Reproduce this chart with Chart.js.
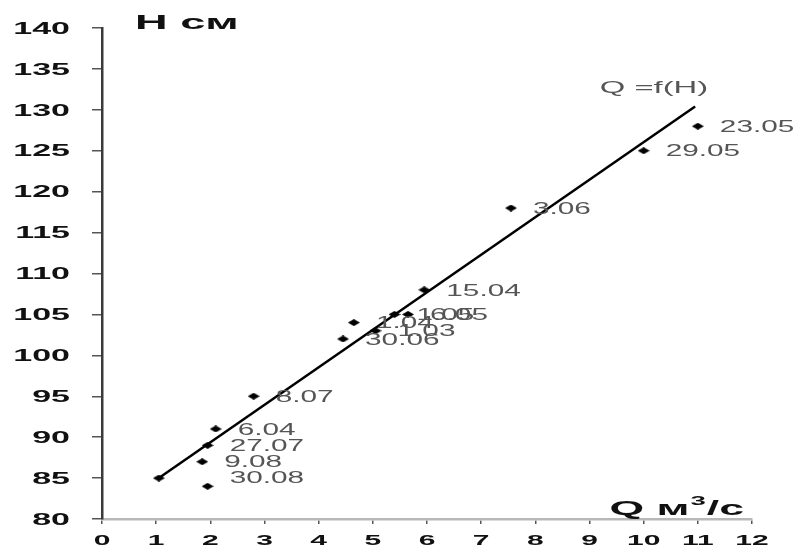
<!DOCTYPE html>
<html>
<head>
<meta charset="utf-8">
<script src="https://cdn.jsdelivr.net/npm/chart.js@4.4.1/dist/chart.umd.min.js"></script>
<style>
html,body{margin:0;padding:0;background:#fff;}
canvas{display:block;}
</style>
</head>
<body>
<canvas id="c" width="809" height="548"></canvas>
<script>
// ---- data ----
const Q = [1.05, 1.95, 1.85, 1.95, 2.1, 2.8, 4.45, 4.65, 5.05, 5.4, 5.65, 5.95, 7.55, 10.0, 11.0];
const H = [85, 84, 87, 89, 91, 95, 102, 104, 103, 105, 105, 108, 118, 125, 128];
const pointLabels = ['', '30.08', '9.08', '27.07', '6.04', '8.07', '30.06', '1.04', '1.03', '1.05', '6.05', '15.04', '3.06', '29.05', '23.05'];
const fitQ = [1.05, 10.95];
const fitH = [85, 130.4];
const xTicks = ['0','1','2','3','4','5','6','7','8','9','10','11','12'];
const yTicks = ['80','85','90','95','100','105','110','115','120','125','130','135','140'];
const yTitle = 'H см';
const xTitle = 'Q м';
const xTitleSup = '3';
const xTitleEnd = '/с';
const lineLabel = 'Q =f(H)';

// elongated diamond marker
const mk = document.createElement('canvas');
mk.width = 12; mk.height = 7;
(function(){
  const g = mk.getContext('2d');
  g.fillStyle = '#000';
  g.beginPath();
  g.moveTo(0,3.5); g.lineTo(6,0); g.lineTo(12,3.5); g.lineTo(6,7); g.closePath();
  g.fill();
})();

function stretchText(ctx, txt, x, y, sx, font, color, align, base){
  ctx.save();
  ctx.translate(x, y);
  ctx.scale(sx, 1);
  ctx.font = font;
  ctx.fillStyle = color;
  ctx.textAlign = align || 'left';
  ctx.textBaseline = base || 'middle';
  ctx.fillText(txt, 0, 0);
  ctx.restore();
}

const textPlugin = {
  id: 'texts',
  afterDraw(chart){
    const ctx = chart.ctx;
    const xs = chart.scales.x, ys = chart.scales.y;
    // y tick labels
    yTicks.forEach(t => {
      const py = ys.getPixelForValue(parseFloat(t));
      stretchText(ctx, t, 70, py + 1, 2.0, 'bold 17px "Liberation Sans", Arial, sans-serif', '#111', 'right');
    });
    // x tick labels
    xTicks.forEach(t => {
      const px = xs.getPixelForValue(parseFloat(t));
      stretchText(ctx, t, px, 541, 2.0, 'bold 15px "Liberation Sans", Arial, sans-serif', '#111', 'center');
    });
    // point labels
    const offs = {1: -9};
    pointLabels.forEach((l, i) => {
      if (!l) return;
      const px = xs.getPixelForValue(Q[i]) + 22;
      const py = ys.getPixelForValue(H[i]) + (offs[i] || 0) + 1;
      stretchText(ctx, l, px, py, 1.75, '17px "Liberation Sans", Arial, sans-serif', '#555', 'left');
    });
    // line label
    stretchText(ctx, lineLabel, xs.getPixelForValue(9.19), ys.getPixelForValue(132.6), 2.05, '16px "Liberation Sans", Arial, sans-serif', '#555', 'left');
    // axis titles
    stretchText(ctx, yTitle, xs.left + 33, 23, 2.15, 'bold 21px "Liberation Sans", Arial, sans-serif', '#111', 'left');
    const tx = xs.getPixelForValue(9.37), ty = ys.getPixelForValue(81.2);
    const sx = 2.12;
    ctx.save();
    ctx.font = 'bold 21px "Liberation Sans", Arial, sans-serif';
    const w1 = ctx.measureText(xTitle).width * sx;
    ctx.font = 'bold 13px "Liberation Sans", Arial, sans-serif';
    const w2 = ctx.measureText(xTitleSup).width * sx;
    ctx.restore();
    stretchText(ctx, xTitle, tx, ty, sx, 'bold 21px "Liberation Sans", Arial, sans-serif', '#111', 'left');
    stretchText(ctx, xTitleSup, tx + w1 + 1, ty - 8, sx, 'bold 13px "Liberation Sans", Arial, sans-serif', '#111', 'left');
    stretchText(ctx, xTitleEnd, tx + w1 + w2 + 2, ty, sx, 'bold 21px "Liberation Sans", Arial, sans-serif', '#111', 'left');
  }
};

new Chart(document.getElementById('c'), {
  type: 'scatter',
  data: {
    datasets: [
      {
        type: 'line',
        data: fitQ.map((q, i) => ({x: q, y: fitH[i]})),
        borderColor: '#000',
        borderWidth: 2.5,
        pointRadius: 0,
        fill: false
      },
      {
        data: Q.map((q, i) => ({x: q, y: H[i]})),
        pointStyle: mk,
        pointRadius: 5,
        backgroundColor: '#000',
        borderColor: '#000'
      }
    ]
  },
  options: {
    responsive: false,
    animation: false,
    devicePixelRatio: 1,
    layout: {padding: {left: 0, top: 28, right: 57, bottom: 0}},
    plugins: {legend: {display: false}, tooltip: {enabled: false}},
    scales: {
      x: {
        type: 'linear', min: 0, max: 12,
        ticks: {display: false, stepSize: 1},
        grid: {drawOnChartArea: false, tickLength: 5, color: '#555', lineWidth: 1.5},
        border: {display: true, color: '#b8b8b8', width: 2.5},
        afterFit(s){ s.height = 29; }
      },
      y: {
        type: 'linear', min: 80, max: 140,
        ticks: {display: false, stepSize: 5},
        grid: {drawOnChartArea: false, tickLength: 10, color: '#555', lineWidth: 1.5},
        border: {display: true, color: '#3a3a3a', width: 2.5},
        afterFit(s){ s.width = 102; }
      }
    }
  },
  plugins: [textPlugin]
});
</script>
</body>
</html>
